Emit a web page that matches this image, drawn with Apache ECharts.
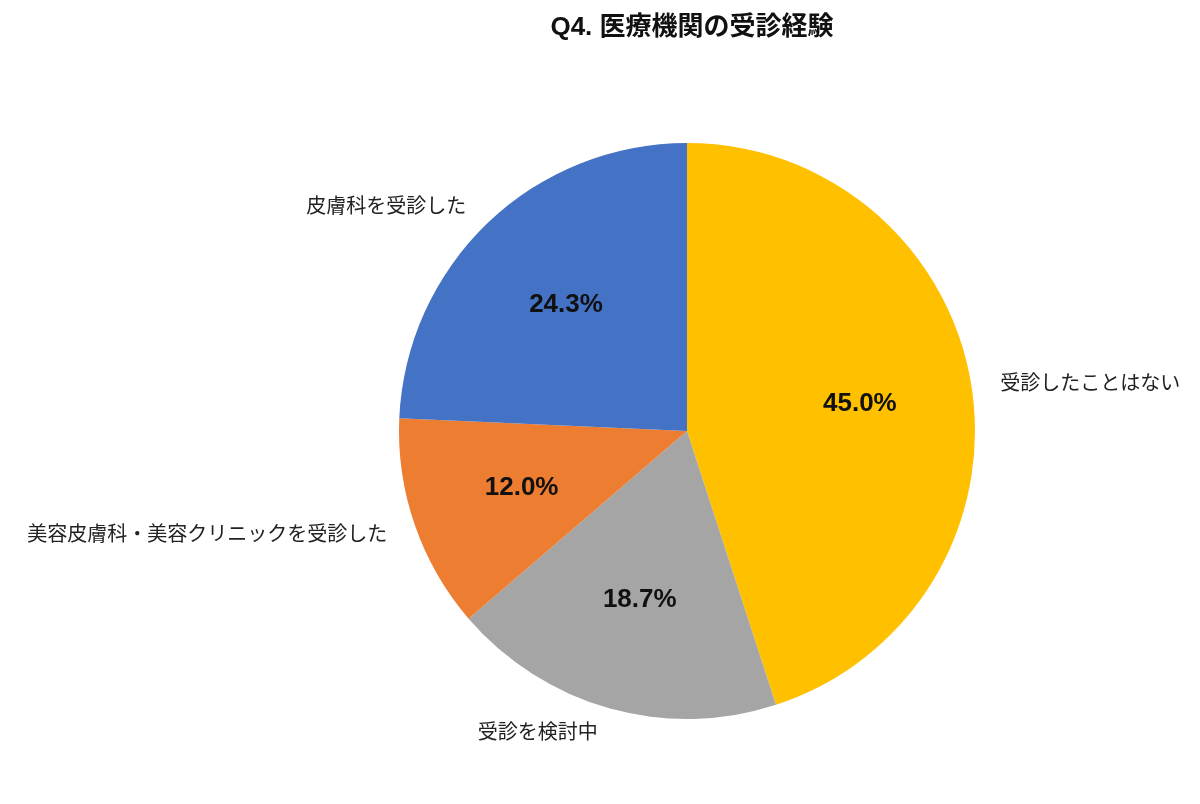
<!DOCTYPE html>
<html>
<head>
<meta charset="utf-8">
<script src="https://cdn.jsdelivr.net/npm/echarts@6/dist/echarts.min.js"></script>
<style>
  html, body { margin: 0; padding: 0; background: #fff; }
  #chart { width: 1200px; height: 804px; }
</style>
</head>
<body>
<div id="chart"></div>
<script>
  var categories = ['受診したことはない', '受診を検討中', '美容皮膚科・美容クリニックを受診した', '皮膚科を受診した'];
  var values = [45.0, 18.7, 12.0, 24.3];
  var colors = ['#FFC000', '#A5A5A5', '#ED7D31', '#4472C4'];

  var data = categories.map(function(name, i) {
    return { name: name, value: values[i], itemStyle: { color: colors[i] } };
  });

  var center = ['57.25%', '53.6%'];

  var option = {
    backgroundColor: '#fff',
    title: {
      text: 'Q4. 医療機関の受診経験',
      left: 687,
      textAlign: 'center',
      top: 10,
      textStyle: {
        fontFamily: "'Liberation Sans', 'Noto Sans CJK JP'",
        fontSize: 26,
        fontWeight: 'bold',
        color: '#111'
      }
    },
    series: [{
      // pie with outside names
      type: 'pie',
      center: center,
      radius: 288,
      startAngle: 90,
      clockwise: true,
      animation: false,
      data: data,
      label: {
        show: true,
        position: 'outside',
        formatter: '{b}',
        fontFamily: "'Noto Sans CJK JP'",
        fontSize: 20,
        color: '#222'
      },
      labelLine: { show: false, length: 24, length2: 0 }
    }, {
      // transparent ring carrying the percentages
      type: 'pie',
      center: center,
      radius: [56, 288],
      startAngle: 90,
      clockwise: true,
      silent: true,
      animation: false,
      data: data.map(function(d) {
        return { name: d.name, value: d.value, itemStyle: { color: 'rgba(0,0,0,0)' } };
      }),
      label: {
        show: true,
        position: 'inside',
        formatter: function(p) { return p.value.toFixed(1) + '%'; },
        fontFamily: "'Liberation Sans', 'Noto Sans'",
        fontSize: 26,
        fontWeight: 'bold',
        color: '#111'
      },
      labelLine: { show: false }
    }]
  };

  echarts.init(document.getElementById('chart')).setOption(option);
</script>
</body>
</html>
